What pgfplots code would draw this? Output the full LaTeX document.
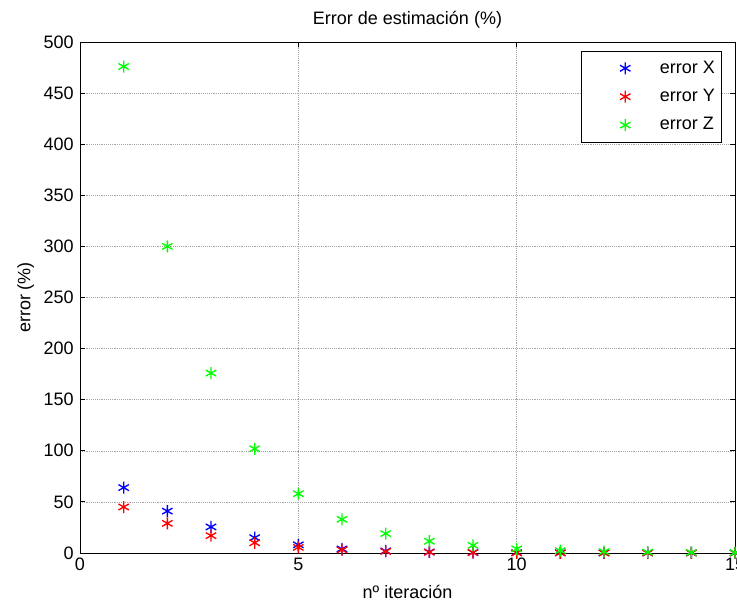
\documentclass[border=0pt]{standalone}
\usepackage{fontspec}
\setmainfont{Liberation Sans}
\usepackage{pgfplots}
\pgfplotsset{compat=1.18}
\pgfplotsset{mystar/.style={only marks, mark=asterisk, mark size=4.5pt, line width=1pt,
  legend image code/.code={\path[draw=none,fill=none] (-3pt,-4pt) rectangle (51pt,4pt); \draw[mark repeat=2,mark phase=2,##1] plot coordinates {(0pt,0pt) (27pt,0pt) (54pt,0pt)};}}}
\begin{document}
\fontsize{13.5}{15}\selectfont
\begin{tikzpicture}[x=0.75pt,y=0.75pt]
\begin{axis}[
  at={(0,0)}, anchor=south west,
  scale only axis,
  width=491.25pt, height=383.25pt,
  xmin=0, xmax=15, ymin=0, ymax=500,
  xtick={0,5,10,15},
  ytick distance=50,
  tick align=inside,
  major tick length=4pt,
  grid=major,
  major grid style={densely dotted, gray!70, line width=0.4pt},
  axis line style={black, line width=0.6pt},
  every tick/.style={black, line width=0.6pt},
  /pgf/number format/assume math mode=true,
  ticklabel style={font=\fontsize{13.5}{15}\selectfont},
  xticklabel style={yshift=1pt},
  title={Error de estimación (\%)},
  title style={font=\fontsize{13.5}{15}\selectfont, yshift=-0.5pt},
  xlabel={nº iteración},
  ylabel={error (\%)},
  label style={font=\fontsize{13.5}{15}\selectfont},
  xlabel style={yshift=-2pt},
  ylabel style={yshift=-2pt},
  legend cell align=left,
  legend style={at={(rel axis cs:1,1)}, xshift=-9.75pt, yshift=-6.75pt, anchor=north east,
    draw=black, line width=0.6pt, font=\fontsize{13.5}{15}\selectfont,
    row sep=6pt, inner xsep=3pt, inner ysep=5pt},
  /tikz/every even column/.append style={column sep=0pt},
]
\addplot[mystar, blue]
coordinates {(1,64) (2,41) (3,25.5) (4,15) (5,8) (6,4) (7,2) (8,1) (9,0.5) (10,0.3) (11,0.2) (12,0.1) (13,0.05) (14,0.03) (15,0.02)};
\addlegendentry{error X}
\addplot[mystar, red]
coordinates {(1,45) (2,29) (3,17) (4,10) (5,5.5) (6,3) (7,1.5) (8,0.8) (9,0.4) (10,0.2) (11,0.1) (12,0.05) (13,0.03) (14,0.02) (15,0.01)};
\addlegendentry{error Y}
\addplot[mystar, green]
coordinates {(1,476) (2,300) (3,176) (4,102) (5,58) (6,33) (7,19) (8,11.5) (9,7.5) (10,4) (11,2.3) (12,1.3) (13,0.8) (14,0.5) (15,0.3)};
\addlegendentry{error Z}
\end{axis}
\pgfresetboundingbox
\path[use as bounding box] (-80,-52) rectangle (657,553);
\end{tikzpicture}
\end{document}
